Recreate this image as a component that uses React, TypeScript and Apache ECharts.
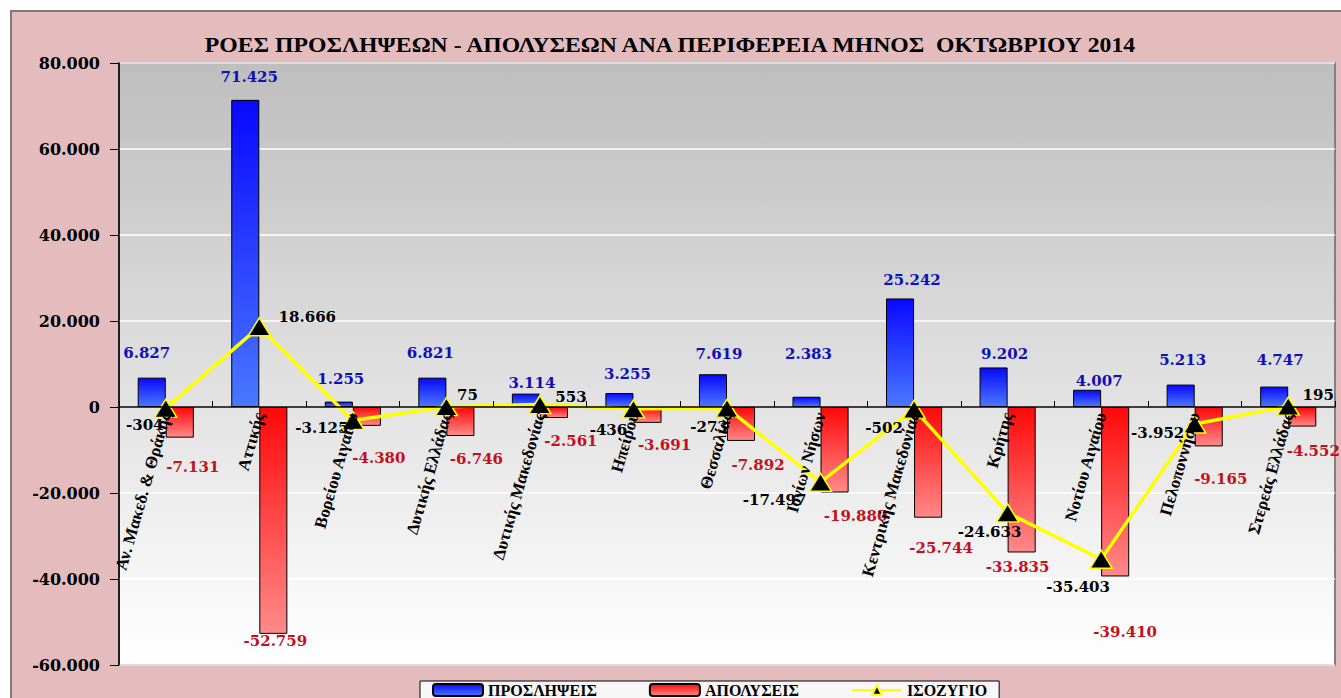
import React, { useEffect, useRef } from 'react';
import * as echarts from 'echarts';

const categories = [
  'Αν. Μακεδ. & Θράκης',
  'Αττικής',
  'Βορείου Αιγαίου',
  'Δυτικής Ελλάδας',
  'Δυτικής Μακεδονίας',
  'Ηπείρου',
  'Θεσσαλίας',
  'Ιονίων Νήσων',
  'Κεντρικής Μακεδονίας',
  'Κρήτης',
  'Νοτίου Αιγαίου',
  'Πελοποννήσου',
  'Στερεάς Ελλάδας',
];
const hires = [6827, 71425, 1255, 6821, 3114, 3255, 7619, 2383, 25242, 9202, 4007, 5213, 4747];
const layoffs = [-7131, -52759, -4380, -6746, -2561, -3691, -7892, -19880, -25744, -33835, -39410, -9165, -4552];
const balance = [-304, 18666, -3125, 75, 553, -436, -273, -17497, -502, -24633, -35403, -3952, 195];

const seriesNames = ['ΠΡΟΣΛΗΨΕΙΣ', 'ΑΠΟΛΥΣΕΙΣ', 'ΙΣΟΖΥΓΙΟ'];
const chartTitle = 'ΡΟΕΣ ΠΡΟΣΛΗΨΕΩΝ - ΑΠΟΛΥΣΕΩΝ ΑΝΑ ΠΕΡΙΦΕΡΕΙΑ ΜΗΝΟΣ  ΟΚΤΩΒΡΙΟΥ 2014';
const yMin = -60000;
const yMax = 80000;
const yStep = 20000;

// label nudges (layout only, in px)
const hiresLabelNudge = [[-5, -17], [4, -15], [2, -15], [-2, -17], [6, -3], [8, -12], [6, -13], [2, -35], [12, -11], [11, -6], [12, -1], [2, -17], [6, -19]];
const layoffsLabelNudge = [[13, 22], [2, 0], [12, 25], [16, 15], [17, 15], [17, 15], [17, 17], [21, 16], [13, 23], [-4, 7], [10, 48], [12, 25], [11, 17]];
const balanceLabelNudge = [[-21, 17], [48, -10], [-31, 8], [21, -12], [31, -8], [-25, 21], [-18, 19], [-46, 18], [-30, 19], [-18, 19], [-23, 28], [-37, 9], [30, -11]];

function fmt(n: number): string {
  const s = Math.abs(Math.round(n)).toString().replace(/\B(?=(\d{3})+(?!\d))/g, '.');
  return (n < 0 ? '-' : '') + s;
}

const serif = '"Liberation Serif", "Times New Roman", serif';
const wideSerif = '"DejaVu Serif", "Liberation Serif", serif';

const W = 1341;
const H = 698;
const GRID_TOP = 63;
const GRID_BOTTOM = 33;
const GRID_LEFT = 119;
const GRID_RIGHT = 6;

export default function App() {
  const ref = useRef<HTMLDivElement>(null);
  useEffect(() => {
    if (!ref.current) return;
    const chart = echarts.init(ref.current, undefined, { renderer: 'svg' });
    const blueGrad = new echarts.graphic.LinearGradient(0, 0, 0, 1, [
      { offset: 0, color: '#0808ff' },
      { offset: 1, color: '#4a78ff' },
    ]);
    const redGrad = new echarts.graphic.LinearGradient(0, 0, 0, 1, [
      { offset: 0, color: '#ff0808' },
      { offset: 1, color: '#ff8a8a' },
    ]);
    const plotH = H - GRID_TOP - GRID_BOTTOM;
    const zeroY = GRID_TOP + (plotH * yMax) / (yMax - yMin);
    const xAxisOffset = zeroY - (H - GRID_BOTTOM);
    const option: any = {
      animation: false,
      backgroundColor: '#ffffff',
      graphic: [
        {
          type: 'rect',
          z: -10,
          shape: { x: 11, y: 11, width: 1345, height: 700 },
          style: { fill: '#e5bcbe', stroke: '#7a7a7a', lineWidth: 2 },
        },
        {
          type: 'text',
          x: 670,
          y: 45,
          scaleX: 1.13,
          style: {
            text: chartTitle,
            fontFamily: serif,
            fontWeight: 'bold',
            fontSize: 21,
            fill: '#000',
            align: 'center',
            verticalAlign: 'middle',
          },
        },
      ],
      legend: {
        left: 420,
        top: 681,
        data: seriesNames,
        itemWidth: 50,
        itemHeight: 12,
        itemGap: 52,
        padding: [1, 12, 12, 12],
        backgroundColor: '#f7f7f7',
        borderColor: '#000',
        borderWidth: 1,
        borderRadius: 0,
        textStyle: { fontFamily: serif, fontWeight: 'bold', fontSize: 16, color: '#000' },
      },
      grid: {
        left: GRID_LEFT,
        right: GRID_RIGHT,
        top: GRID_TOP,
        bottom: GRID_BOTTOM,
        outerBoundsMode: 'none',
        containLabel: false,
        show: true,
        backgroundColor: new echarts.graphic.LinearGradient(0, 0, 0, 1, [
          { offset: 0, color: '#bebebe' },
          { offset: 1, color: '#ffffff' },
        ]),
        borderColor: '#808080',
        borderWidth: 2,
      },
      xAxis: {
        type: 'category',
        data: categories,
        offset: xAxisOffset,
        z: 10,
        axisLine: { onZero: false, lineStyle: { color: '#000', width: 1.5 } },
        axisTick: { show: true, length: 6, inside: true, lineStyle: { color: '#000' } },
        axisLabel: {
          interval: 0,
          rotate: 74,
          margin: 6,
          fontFamily: serif,
          fontWeight: 'bold',
          fontSize: 17,
          color: '#000',
        },
        splitLine: { show: false },
      },
      yAxis: {
        type: 'value',
        min: yMin,
        max: yMax,
        interval: yStep,
        axisLine: { show: true, lineStyle: { color: '#000', width: 1.5 } },
        axisTick: { show: true, length: 9, lineStyle: { color: '#000' } },
        axisLabel: {
          formatter: (v: number) => fmt(v),
          margin: 19,
          fontFamily: wideSerif,
          fontWeight: 'bold',
          fontSize: 16,
          color: '#000',
        },
        splitLine: { show: true, lineStyle: { color: '#ffffff', width: 1.5 } },
      },
      series: [
        {
          name: seriesNames[0],
          type: 'bar',
          barGap: '0%',
          barCategoryGap: '40%',
          itemStyle: { color: blueGrad, borderColor: '#000', borderWidth: 1 },
          data: hires.map((v, i) => ({
            value: v,
            label: { offset: hiresLabelNudge[i] },
          })),
          label: {
            show: true,
            position: 'outside',
            distance: 0,
            formatter: (p: any) => fmt(p.value),
            fontFamily: wideSerif,
            fontWeight: 'bold',
            fontSize: 15,
            color: '#1010b8',
          },
          z: 2,
        },
        {
          name: seriesNames[1],
          type: 'bar',
          barGap: '0%',
          barCategoryGap: '40%',
          itemStyle: { color: redGrad, borderColor: '#000', borderWidth: 1 },
          data: layoffs.map((v, i) => ({
            value: v,
            label: { offset: layoffsLabelNudge[i] },
          })),
          label: {
            show: true,
            position: 'outside',
            distance: 0,
            formatter: (p: any) => fmt(p.value),
            fontFamily: wideSerif,
            fontWeight: 'bold',
            fontSize: 15,
            color: '#c4101c',
          },
          z: 2,
        },
        {
          name: seriesNames[2],
          type: 'line',
          symbol: 'triangle',
          symbolSize: [22, 18],
          lineStyle: { color: '#ffff00', width: 3.5 },
          itemStyle: { color: '#000', borderColor: '#ffff00', borderWidth: 1.5 },
          data: balance.map((v, i) => ({
            value: v,
            label: { offset: balanceLabelNudge[i] },
          })),
          label: {
            show: true,
            position: 'inside',
            formatter: (p: any) => fmt(p.value),
            fontFamily: wideSerif,
            fontWeight: 'bold',
            fontSize: 15,
            color: '#000',
          },
          z: 5,
        },
      ],
    };
    chart.setOption(option);
    return () => chart.dispose();
  }, []);
  return (
    <div
      ref={ref}
      style={{ position: 'fixed', left: 0, top: 0, width: W, height: H }}
    />
  );
}
